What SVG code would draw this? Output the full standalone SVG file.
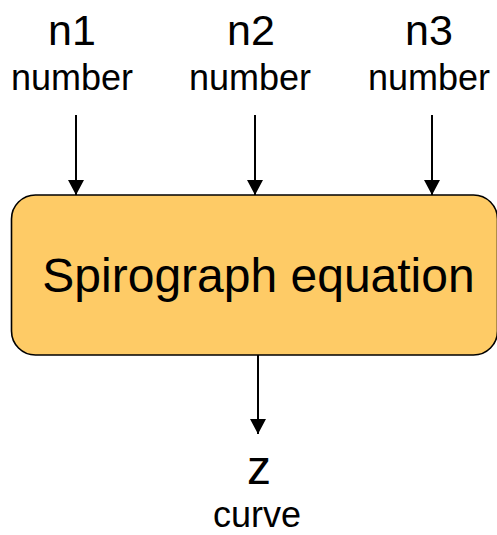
<svg xmlns="http://www.w3.org/2000/svg" width="497" height="535" viewBox="0 0 497 535">
<style>
.t{font-family:"Liberation Sans",Arial,sans-serif;fill:#000;text-anchor:middle}
.big{font-size:43px}
.sub{font-size:36px}
.conn line{stroke:#000;stroke-width:2}
</style>
<defs>
<marker id="ah" viewBox="0 0 15 16" refX="15" refY="8" markerWidth="15" markerHeight="16" markerUnits="userSpaceOnUse" orient="auto">
<path d="M0,0 L15,8 L0,16 Z" fill="#000"/>
</marker>
</defs>
<g id="n1"><text class="t big" x="72" y="45">n1</text><text class="t sub" x="72" y="90">number</text></g>
<g id="n2"><text class="t big" x="251" y="45">n2</text><text class="t sub" x="250" y="90">number</text></g>
<g id="n3"><text class="t big" x="429" y="45">n3</text><text class="t sub" x="429" y="90">number</text></g>
<g id="eq"><rect x="11.5" y="195" width="486" height="160" rx="24" ry="24" fill="#FECB66" stroke="#000" stroke-width="1.6"/><text class="t" x="258.5" y="292" font-size="48">Spirograph equation</text></g>
<g id="z"><text class="t" x="259" y="484" font-size="48">z</text><text class="t sub" x="257" y="527">curve</text></g>
<g class="conn">
<line x1="76" y1="115" x2="76" y2="195" marker-end="url(#ah)"/>
<line x1="255" y1="115" x2="255" y2="195" marker-end="url(#ah)"/>
<line x1="432" y1="115" x2="432" y2="195" marker-end="url(#ah)"/>
<line x1="258" y1="355" x2="258" y2="434" marker-end="url(#ah)"/>
</g>
</svg>
